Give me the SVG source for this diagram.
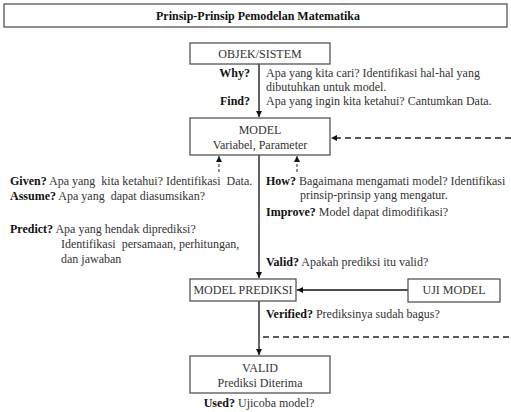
<svg xmlns="http://www.w3.org/2000/svg" width="511" height="412" viewBox="0 0 511 412">
<defs>
<marker id="ah" viewBox="0 0 8 8" refX="8" refY="4" markerWidth="6" markerHeight="6" orient="auto" markerUnits="userSpaceOnUse">
<path d="M0,0 L8,4 L0,8 z" fill="#111"/>
</marker>
</defs>
<style>
text{font-family:"Liberation Serif","Times New Roman",serif;font-size:12px;fill:#333}
.b{font-weight:bold;fill:#111}
.c{text-anchor:middle}
.e{text-anchor:end}
.p{white-space:pre}
.box{fill:#fff;stroke:#555;stroke-width:1.3}
.ln{stroke:#111;stroke-width:1.3;fill:none}
.dl{stroke:#222;stroke-width:1.5;fill:none;stroke-dasharray:6,4}
.sd{stroke:#222;stroke-width:1;fill:none;stroke-dasharray:3,2}
</style>
<rect width="511" height="412" fill="#fff"/>
<g id="title">
<rect x="4" y="4" width="503" height="23" class="box"/>
<text x="258" y="20" class="b c">Prinsip-Prinsip Pemodelan Matematika</text>
</g>
<g id="connectors">
<line x1="259" y1="64" x2="259" y2="117" class="ln" marker-end="url(#ah)"/>
<line x1="259" y1="155" x2="259" y2="278" class="ln" marker-end="url(#ah)"/>
<line x1="259" y1="301" x2="259" y2="355" class="ln" marker-end="url(#ah)"/>
<line x1="408" y1="290" x2="297" y2="290" class="ln" marker-end="url(#ah)"/>
<line x1="511" y1="138" x2="331" y2="138" class="dl" marker-end="url(#ah)"/>
<line x1="263" y1="337" x2="511" y2="337" class="dl"/>
<line x1="219" y1="172" x2="219" y2="156" class="sd" marker-end="url(#ah)"/>
<line x1="297" y1="172" x2="297" y2="156" class="sd" marker-end="url(#ah)"/>
</g>
<g id="objek">
<rect x="190" y="43" width="140" height="21" class="box"/>
<text x="260" y="58" class="c">OBJEK/SISTEM</text>
</g>
<g id="model">
<rect x="190" y="118" width="140" height="37" class="box"/>
<text x="260" y="134" class="c">MODEL</text>
<text x="260" y="149" class="c">Variabel, Parameter</text>
</g>
<g id="model-prediksi">
<rect x="190" y="279" width="106" height="22" class="box"/>
<text x="243" y="294" class="c">MODEL PREDIKSI</text>
</g>
<g id="uji-model">
<rect x="408" y="279" width="92" height="23" class="box"/>
<text x="454" y="294" class="c">UJI MODEL</text>
</g>
<g id="valid">
<rect x="190" y="356" width="140" height="37" class="box"/>
<text x="260" y="372" class="c">VALID</text>
<text x="260" y="387" class="c">Prediksi Diterima</text>
</g>
<g id="labels">
<text x="250" y="77" class="b e">Why?</text>
<text x="266" y="77">Apa yang kita cari? Identifikasi hal-hal yang</text>
<text x="266" y="91">dibutuhkan untuk model.</text>
<text x="250" y="105" class="b e">Find?</text>
<text x="266" y="105">Apa yang ingin kita ketahui? Cantumkan Data.</text>
<text x="10" y="185" class="p"><tspan class="b">Given?</tspan> Apa yang  kita ketahui? Identifikasi  Data.</text>
<text x="10" y="200" class="p"><tspan class="b">Assume?</tspan> Apa yang  dapat diasumsikan?</text>
<text x="10" y="233"><tspan class="b">Predict?</tspan> Apa yang hendak diprediksi?</text>
<text x="61" y="248" class="p">Identifikasi  persamaan, perhitungan,</text>
<text x="61" y="263">dan jawaban</text>
<text x="266" y="185"><tspan class="b">How?</tspan> Bagaimana mengamati model? Identifikasi</text>
<text x="300" y="199">prinsip-prinsip yang mengatur.</text>
<text x="266" y="216"><tspan class="b">Improve?</tspan> Model dapat dimodifikasi?</text>
<text x="266" y="266"><tspan class="b">Valid?</tspan> Apakah prediksi itu valid?</text>
<text x="266" y="318"><tspan class="b">Verified?</tspan> Prediksinya sudah bagus?</text>
<text x="259" y="407" class="c"><tspan class="b">Used?</tspan> Ujicoba model?</text>
</g>
</svg>
